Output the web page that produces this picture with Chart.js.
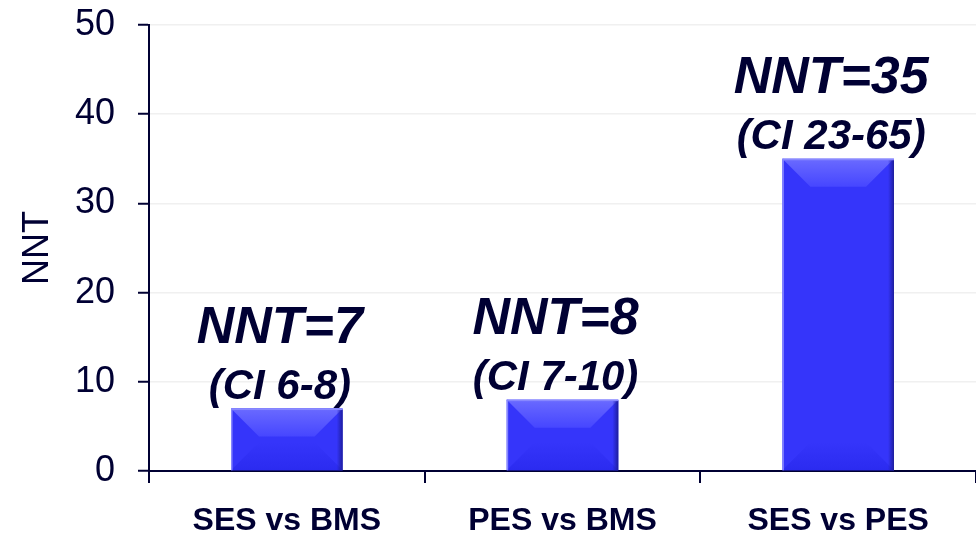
<!DOCTYPE html>
<html>
<head>
<meta charset="utf-8">
<script src="https://cdn.jsdelivr.net/npm/chart.js@4.4.1/dist/chart.umd.min.js"></script>
<style>
  html, body { margin: 0; padding: 0; background: #fff; }
</style>
</head>
<body>
<canvas id="nnt" width="976" height="533"></canvas>
<script>
const categories = ['SES vs BMS', 'PES vs BMS', 'SES vs PES'];
const nntValues = [7, 8, 35];
const nntLabels = ['NNT=7', 'NNT=8', 'NNT=35'];
const ciLabels = ['(CI 6-8)', '(CI 7-10)', '(CI 23-65)'];
const yMin = 0;
const yMax = 50;
const yStep = 10;

const navy = '#000033';
const fontFamily = "'Liberation Sans', Arial, sans-serif";

// bevelled look of the bars: light top, darker bottom, dark right edge
const bevelBars = {
  id: 'bevelBars',
  afterDatasetsDraw(chart) {
    const c = chart.ctx;
    chart.getDatasetMeta(0).data.forEach(bar => {
      const l = bar.x - bar.width / 2;
      const r = bar.x + bar.width / 2;
      const t = bar.y;
      const b = bar.base;
      const d = Math.min(28, (b - t) / 2.2);
      c.save();
      // top face
      let g = c.createLinearGradient(0, t, 0, t + d);
      g.addColorStop(0, '#6a6aff');
      g.addColorStop(1, '#4646ff');
      c.fillStyle = g;
      c.beginPath();
      c.moveTo(l, t); c.lineTo(r, t); c.lineTo(r - d, t + d); c.lineTo(l + d, t + d);
      c.closePath(); c.fill();
      // bottom face
      g = c.createLinearGradient(0, b - d, 0, b);
      g.addColorStop(0, '#3535fa');
      g.addColorStop(1, '#2b2bf0');
      c.fillStyle = g;
      c.beginPath();
      c.moveTo(l, b); c.lineTo(r, b); c.lineTo(r - d, b - d); c.lineTo(l + d, b - d);
      c.closePath(); c.fill();
      // dark right edge
      g = c.createLinearGradient(r - 6, 0, r, 0);
      g.addColorStop(0, 'rgba(30,30,170,0)');
      g.addColorStop(1, '#1e1e9a');
      c.fillStyle = g;
      c.fillRect(r - 6, t + 1, 6, b - t - 1);
      // light left and top edge
      c.fillStyle = '#8888ff';
      c.fillRect(l, t, 1.5, b - t);
      c.fillRect(l, t, r - l, 1.5);
      c.restore();
    });
  }
};

// NNT and CI text above each bar
const barNotes = {
  id: 'barNotes',
  afterDatasetsDraw(chart) {
    const c = chart.ctx;
    c.save();
    c.fillStyle = navy;
    c.textAlign = 'center';
    c.textBaseline = 'alphabetic';
    chart.getDatasetMeta(0).data.forEach((bar, i) => {
      const ciBase = bar.y - 10;
      c.font = 'italic bold 42px ' + fontFamily;
      c.fillText(ciLabels[i], bar.x - 7, ciBase);
      c.font = 'italic bold 52px ' + fontFamily;
      c.fillText(nntLabels[i], bar.x - 7, ciBase - 56);
    });
    c.restore();
  }
};

new Chart(document.getElementById('nnt'), {
  type: 'bar',
  data: {
    labels: categories,
    datasets: [{
      data: nntValues,
      backgroundColor: '#3535fa',
      borderWidth: 0,
      barPercentage: 0.81,
      categoryPercentage: 0.5
    }]
  },
  plugins: [bevelBars, barNotes],
  options: {
    responsive: false,
    animation: false,
    layout: {
      padding: { top: 25, right: 0, left: 0, bottom: 0 }
    },
    plugins: {
      legend: { display: false },
      tooltip: { enabled: false }
    },
    scales: {
      x: {
        afterFit(scale) { scale.height = 62; },
        grid: {
          offset: true,
          drawOnChartArea: false,
          drawTicks: true,
          tickLength: 12,
          tickColor: navy,
          lineWidth: 2
        },
        border: { color: navy, width: 2 },
        ticks: {
          color: navy,
          padding: 19,
          font: { family: fontFamily, size: 32, weight: 'bold' }
        }
      },
      y: {
        min: yMin,
        max: yMax,
        afterFit(scale) {
          scale.width = 149;
          scale.paddingTop = 0;
          scale.paddingBottom = 0;
        },
        grid: {
          color: '#f0f0f0',
          lineWidth: 1.5,
          tickLength: 11,
          tickColor: navy,
          tickWidth: 2
        },
        border: { color: navy, width: 2 },
        ticks: {
          stepSize: yStep,
          color: navy,
          padding: 23,
          font: { family: fontFamily, size: 36 }
        },
        title: {
          display: true,
          text: 'NNT',
          color: navy,
          padding: { top: 16, bottom: 0 },
          font: { family: fontFamily, size: 36 }
        }
      }
    }
  }
});
</script>
</body>
</html>
